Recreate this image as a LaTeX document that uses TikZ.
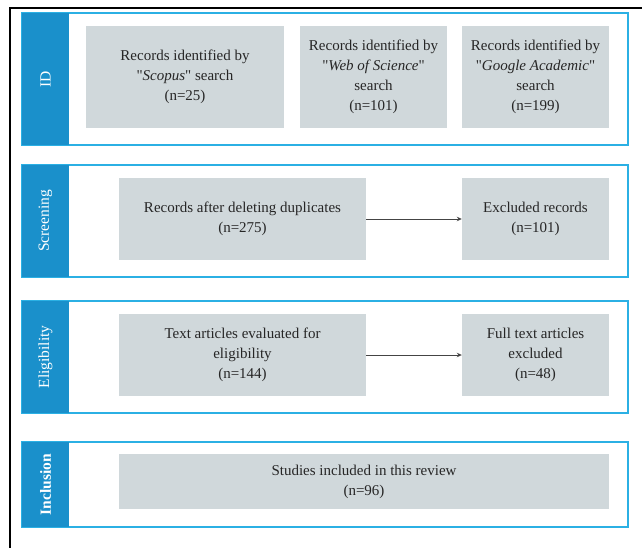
\documentclass[tikz,border=0pt]{standalone}
\usepackage{fontspec}
\setmainfont{Liberation Serif}
\usetikzlibrary{arrows.meta}
\definecolor{stripblue}{HTML}{1A90CB}
\definecolor{lineblue}{HTML}{2BB0E4}
\definecolor{boxgray}{HTML}{D0D8DB}
\definecolor{arrowgray}{HTML}{444444}
\newcommand{\qq}{\textquotedbl}
\tikzset{
  panel/.style={draw=lineblue, line width=2pt, fill=white, rectangle, inner sep=0pt},
  strip/.style={fill=stripblue, draw=none, rectangle, inner sep=0pt, text=white,
    font=\fontsize{15.5}{18}\selectfont},
  graybox/.style={fill=boxgray, draw=none, rectangle, inner sep=0pt, align=center,
    text=black!85, font=\fontsize{15}{20}\selectfont},
  flowarrow/.style={draw=arrowgray, line width=1pt, -{Stealth[length=5pt,width=4.5pt]}},
}
\begin{document}
\begin{tikzpicture}[x=1pt,y=-1pt]
\useasboundingbox (0,0) rectangle (642,548);
\fill[white] (0,0) rectangle (642,548);
% outer frame
\draw[line width=2.6pt] (10,560) -- (10,8) -- (660,8);

% panels
\node[panel, minimum width=606pt, minimum height=132pt] (pid) at (325,79) {};
\node[panel, minimum width=606pt, minimum height=112pt] (pscr) at (325,221) {};
\node[panel, minimum width=606pt, minimum height=112pt] (pel) at (325,357) {};
\node[panel, minimum width=606pt, minimum height=85pt] (pinc) at (325,484.5) {};

% strips
\node[strip, minimum width=47pt, minimum height=132pt] (sid) at (45.5,79) {\rotatebox{90}{ID}};
\node[strip, minimum width=47pt, minimum height=112pt] (sscr) at (45.5,221) {\rotatebox{90}{Screening}};
\node[strip, minimum width=47pt, minimum height=112pt] (sel) at (45.5,357) {\rotatebox{90}{Eligibility}};
\node[strip, minimum width=47pt, minimum height=85pt] (sinc) at (45.5,484.5) {\rotatebox{90}{\bfseries Inclusion}};

% ID boxes
\node[graybox, minimum width=198pt, minimum height=102pt] (b1) at (185,77)
  {Records identified by\\\qq\textit{Scopus}\qq{} search\\(n=25)};
\node[graybox, minimum width=147pt, minimum height=102pt] (b2) at (373.5,77)
  {Records identified by\\\qq\textit{Web of Science}\qq\\search\\(n=101)};
\node[graybox, minimum width=147pt, minimum height=102pt] (b3) at (535.5,77)
  {Records identified by\\\qq\textit{Google Academic}\qq\\search\\(n=199)};

% Screening
\node[graybox, minimum width=247pt, minimum height=82pt] (s1) at (242.5,219)
  {Records after deleting duplicates\\(n=275)};
\node[graybox, minimum width=147pt, minimum height=82pt] (s2) at (535.5,219)
  {Excluded records\\(n=101)};
\draw[flowarrow] (s1.east) -- (s2.west);

% Eligibility
\node[graybox, minimum width=247pt, minimum height=82pt] (e1) at (242.5,355)
  {Text articles evaluated for\\eligibility\\(n=144)};
\node[graybox, minimum width=147pt, minimum height=82pt] (e2) at (535.5,355)
  {Full text articles\\excluded\\(n=48)};
\draw[flowarrow] (e1.east) -- (e2.west);

% Inclusion
\node[graybox, minimum width=490pt, minimum height=55pt] (i1) at (364,481.5)
  {Studies included in this review\\(n=96)};
\end{tikzpicture}
\end{document}
